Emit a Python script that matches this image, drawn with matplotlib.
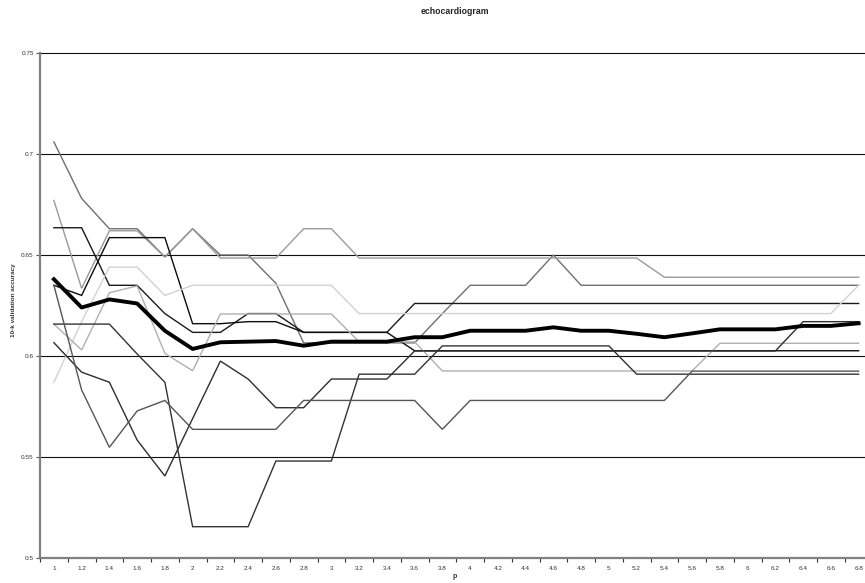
import numpy as np
import matplotlib
matplotlib.use("Agg")
import matplotlib.pyplot as plt
from matplotlib.ticker import FixedLocator

plt.rcParams['font.family'] = ['Liberation Sans', 'DejaVu Sans']

# p values along the x axis
p_values = [1, 1.2, 1.4, 1.6, 1.8, 2, 2.2, 2.4, 2.6, 2.8, 3, 3.2, 3.4, 3.6, 3.8,
            4, 4.2, 4.4, 4.6, 4.8, 5, 5.2, 5.4, 5.6, 5.8, 6, 6.2, 6.4, 6.6, 6.8]

# 10-k validation accuracy of the individual runs
run_a = [0.706, 0.678, 0.663, 0.663, 0.649, 0.663, 0.650, 0.650, 0.636, 0.6065,
         0.6065, 0.6065, 0.6065, 0.6065, 0.621, 0.635, 0.635, 0.635, 0.650, 0.635,
         0.635, 0.635, 0.635, 0.635, 0.635, 0.635, 0.635, 0.635, 0.635, 0.635]
run_b = [0.677, 0.6335, 0.662, 0.662, 0.649, 0.663, 0.6485, 0.6485, 0.6485, 0.663,
         0.663, 0.6485, 0.6485, 0.6485, 0.6485, 0.6485, 0.6485, 0.6485, 0.6485, 0.6485,
         0.6485, 0.6485, 0.639, 0.639, 0.639, 0.639, 0.639, 0.639, 0.639, 0.639]
run_c = [0.6635, 0.6635, 0.635, 0.635, 0.621, 0.6117, 0.6117, 0.621, 0.621, 0.6117,
         0.6117, 0.6117, 0.6117, 0.626, 0.626, 0.626, 0.626, 0.626, 0.626, 0.626,
         0.626, 0.626, 0.626, 0.626, 0.626, 0.626, 0.626, 0.626, 0.626, 0.626]
run_d = [0.635, 0.630, 0.6586, 0.6586, 0.6586, 0.616, 0.616, 0.617, 0.617, 0.6117,
         0.6117, 0.6117, 0.6117, 0.6026, 0.6026, 0.6026, 0.6026, 0.6026, 0.6026, 0.6026,
         0.6026, 0.6026, 0.6026, 0.6026, 0.6026, 0.6026, 0.6026, 0.6026, 0.6026, 0.6026]
run_e = [0.587, 0.617, 0.644, 0.644, 0.630, 0.635, 0.635, 0.635, 0.635, 0.635,
         0.635, 0.621, 0.621, 0.621, 0.621, 0.621, 0.621, 0.621, 0.621, 0.621,
         0.621, 0.621, 0.621, 0.621, 0.621, 0.621, 0.621, 0.621, 0.621, 0.635]
run_f = [0.6158, 0.603, 0.6313, 0.6347, 0.6013, 0.5927, 0.6208, 0.6208, 0.6208, 0.6208,
         0.6208, 0.607, 0.607, 0.607, 0.5926, 0.5926, 0.5926, 0.5926, 0.5926, 0.5926,
         0.5926, 0.5926, 0.5926, 0.5926, 0.6063, 0.6063, 0.6063, 0.6063, 0.6063, 0.6063]
run_g = [0.6066, 0.592, 0.587, 0.5584, 0.5406, 0.569, 0.5975, 0.5886, 0.5744, 0.5744,
         0.5886, 0.5886, 0.5886, 0.6025, 0.6025, 0.6025, 0.6025, 0.6025, 0.6025, 0.6025,
         0.6025, 0.6025, 0.6025, 0.6025, 0.6025, 0.6025, 0.6025, 0.617, 0.617, 0.617]
run_h = [0.6158, 0.6158, 0.6158, 0.601, 0.587, 0.5155, 0.5155, 0.5155, 0.548, 0.548,
         0.548, 0.591, 0.591, 0.591, 0.605, 0.605, 0.605, 0.605, 0.605, 0.605,
         0.605, 0.591, 0.591, 0.591, 0.591, 0.591, 0.591, 0.591, 0.591, 0.591]
run_i = [0.635, 0.5832, 0.5548, 0.5728, 0.578, 0.5637, 0.5637, 0.5637, 0.5637, 0.578,
         0.578, 0.578, 0.578, 0.578, 0.5637, 0.578, 0.578, 0.578, 0.578, 0.578,
         0.578, 0.578, 0.578, 0.5925, 0.5925, 0.5925, 0.5925, 0.5925, 0.5925, 0.5925]

# mean accuracy over the runs
mean_run = [0.638, 0.624, 0.628, 0.626, 0.6125, 0.6035, 0.6068, 0.6071, 0.6074, 0.6051,
            0.6071, 0.6071, 0.6071, 0.6093, 0.6093, 0.6125, 0.6125, 0.6125, 0.6142, 0.6125,
            0.6125, 0.611, 0.6093, 0.6112, 0.6132, 0.6132, 0.6132, 0.6149, 0.6149, 0.6162]

y_ticks = [0.5, 0.55, 0.6, 0.65, 0.7, 0.75]
y_tick_labels = ["0.5", "0.55", "0.6", "0.65", "0.7", "0.75"]

runs = [run_a, run_b, run_c, run_d, run_e, run_f, run_g, run_h, run_i]
run_colors = ["#6f6f6f", "#9a9a9a", "#1a1a1a", "#0d0d0d", "#d2d2d2",
              "#b0b0b0", "#2e2e2e", "#333333", "#555555"]

W, H = 865, 583
fig = plt.figure(figsize=(W / 100, H / 100), dpi=100)
ax = fig.add_axes([40 / W, 25 / H, 832.5 / W, 505 / H])

x = np.arange(len(p_values))
ax.set_xlim(-0.5, len(p_values) - 0.5)
ax.set_ylim(0.5, 0.75)

# horizontal gridlines
for yv in y_ticks[1:]:
    ax.axhline(yv, color="#111111", lw=0.8, zorder=1, clip_on=False)

for vals, col in zip(runs, run_colors):
    ax.plot(x, vals, color=col, lw=1.0, zorder=2, solid_joinstyle="miter")

ax.plot(x, mean_run, color="black", lw=2.8, zorder=3, solid_joinstyle="round")

for side in ("top", "right"):
    ax.spines[side].set_visible(False)
for side in ("left", "bottom"):
    ax.spines[side].set_color("#808080")
    ax.spines[side].set_linewidth(1.6)

ax.set_yticks(y_ticks)
ax.set_yticklabels(y_tick_labels)
ax.tick_params(axis="y", length=3, width=0.8, color="#555555", pad=1.5,
               labelsize=4.6, labelcolor="#333333")

ax.set_xticks(x)
ax.set_xticklabels([f"{v:g}" for v in p_values])
ax.tick_params(axis="x", which="major", length=0, pad=6, labelsize=4.6,
               labelcolor="#333333")
ax.xaxis.set_minor_locator(FixedLocator(np.arange(-0.5, len(p_values), 1.0)))
ax.tick_params(axis="x", which="minor", length=3, width=0.8, color="#333333")

fig.text(455 / W, 1 - 12 / H, "echocardiogram", ha="center", va="center",
         fontsize=6.3, fontweight="bold", color="#222222")
fig.text(14 / W, 1 - 300 / H, "10-k validation accuracy", ha="center", va="center",
         rotation=90, fontsize=4.6, fontweight="bold", color="#333333")
fig.text(455 / W, 1 - 577 / H, "p", ha="center", va="center",
         fontsize=5, fontweight="bold", color="#333333")

fig.savefig("out.png", dpi=100, facecolor="white")
